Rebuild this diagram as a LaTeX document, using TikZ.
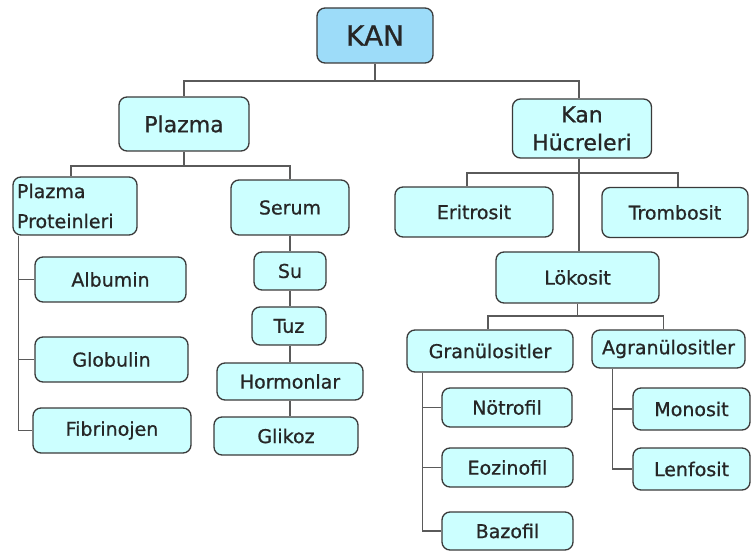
\documentclass[tikz,border=0pt]{standalone}
\usepackage{fontspec}
\setmainfont{DejaVu Sans}[BoldFont=DejaVu Sans, BoldFeatures={FakeBold=0.8}]
\definecolor{boxfill}{HTML}{CCFFFF}
\definecolor{kanfill}{HTML}{9DDCF9}
\definecolor{boxline}{HTML}{3A3A3A}
\definecolor{conline}{HTML}{5A5A5A}
\tikzset{
  box/.style={draw=boxline, line width=1.3pt, fill=boxfill, rounded corners=8pt,
    inner sep=2pt, font=\fontsize{19}{24}\selectfont\bfseries, text=black!85},
  bigbox/.style={box, font=\fontsize{22}{28}\selectfont\bfseries},
  con/.style={draw=conline, line width=1.5pt}
}
\begin{document}
\begin{tikzpicture}[x=1pt,y=-1pt]
\useasboundingbox (0,0) rectangle (755,553);
% nodes
\node[box, fill=kanfill, font=\fontsize{28}{32}\selectfont\bfseries, minimum width=116pt, minimum height=55pt] (kan) at (375,35.5) {KAN};
\node[bigbox, minimum width=130pt, minimum height=54pt] (plazma) at (184,124) {Plazma};
\node[bigbox, minimum width=139pt, minimum height=59pt, align=center] (hucre) at (582,128.5) {Kan\\Hücreleri};
\node[box, minimum width=124pt, minimum height=58pt, align=left, text width=116pt, inner sep=4pt, font=\fontsize{19}{30}\selectfont\bfseries] (pp) at (75,206) {Plazma\\Proteinleri};
\node[box, minimum width=118pt, minimum height=55pt] (serum) at (290,207.5) {Serum};
\node[box, minimum width=158pt, minimum height=50pt] (eri) at (474,212) {Eritrosit};
\node[box, minimum width=146pt, minimum height=50pt] (trom) at (675,212.5) {Trombosit};
\node[box, minimum width=163pt, minimum height=51pt] (lok) at (577.5,277.5) {Lökosit};
\node[box, minimum width=72pt, minimum height=38pt] (su) at (290,271) {Su};
\node[box, minimum width=74pt, minimum height=38pt] (tuz) at (289,326) {Tuz};
\node[box, minimum width=146pt, minimum height=37pt] (hor) at (290,381.5) {Hormonlar};
\node[box, minimum width=144pt, minimum height=38pt] (gli) at (286,436) {Glikoz};
\node[box, minimum width=151pt, minimum height=45pt] (alb) at (110.5,279.5) {Albumin};
\node[box, minimum width=153pt, minimum height=45pt] (glo) at (111.5,359.5) {Globulin};
\node[box, minimum width=158pt, minimum height=45pt] (fib) at (112,430.5) {Fibrinojen};
\node[box, minimum width=166pt, minimum height=42pt] (gran) at (490,351) {Granülositler};
\node[box, minimum width=153pt, minimum height=38pt] (agran) at (668.5,349) {Agranülositler};
\node[box, minimum width=130pt, minimum height=39pt] (not) at (507,407.5) {Nötrofil};
\node[box, minimum width=131pt, minimum height=39pt] (eoz) at (507.5,467.5) {Eozinofil};
\node[box, minimum width=131pt, minimum height=38pt] (baz) at (507.5,531) {Bazofil};
\node[box, minimum width=117pt, minimum height=42pt] (mon) at (691.5,409) {Monosit};
\node[box, minimum width=117pt, minimum height=42pt] (len) at (691.5,469) {Lenfosit};
% connectors
\coordinate (j1) at (375,81);
\draw[con] (kan.south) -- (j1);
\draw[con] (j1) -| (plazma.north);
\draw[con] (j1) -| ([xshift=-3pt]hucre.north);
\coordinate (j2) at (plazma.south |- 0,166);
\draw[con] (plazma.south) -- (j2);
\draw[con] (j2) -| ([xshift=-4pt]pp.north);
\draw[con] (j2) -| (serum.north);
\coordinate (j3) at (579,173);
\draw[con] ([xshift=-3pt]hucre.south) -- (j3);
\draw[con] (j3) -| ([xshift=-7pt]eri.north);
\draw[con] (j3) -| ([xshift=3pt]trom.north);
\draw[con] (j3) -- (j3 |- lok.north);
\coordinate (j4) at (lok.south |- 0,316);
\draw[con] (lok.south) -- (j4);
\draw[con] (j4) -| ([xshift=-2pt]gran.north);
\draw[con] (j4) -| ([xshift=-5pt]agran.north);
% serum chain
\draw[con] (serum.south) -- (serum.south |- su.north);
\draw[con] (su.south) -- (su.south |- tuz.north);
\draw[con] (serum.south |- tuz.south) -- (serum.south |- hor.north);
\draw[con] (serum.south |- hor.south) -- (serum.south |- gli.north);
% plazma proteinleri
\coordinate (p0) at ([xshift=6pt]pp.south west);
\draw[con] (p0) |- (alb.west);
\draw[con] (p0) |- (glo.west);
\draw[con] (p0) |- (fib.west);
% granulositler
\coordinate (g0) at ([xshift=16pt]gran.south west);
\draw[con] (g0) |- (not.west);
\draw[con] (g0) |- (eoz.west);
\draw[con] (g0) |- (baz.west);
% agranulositler
\coordinate (a0) at ([xshift=21pt]agran.south west);
\draw[con] (a0) |- (mon.west);
\draw[con] (a0) |- (len.west);
\end{tikzpicture}
\end{document}
